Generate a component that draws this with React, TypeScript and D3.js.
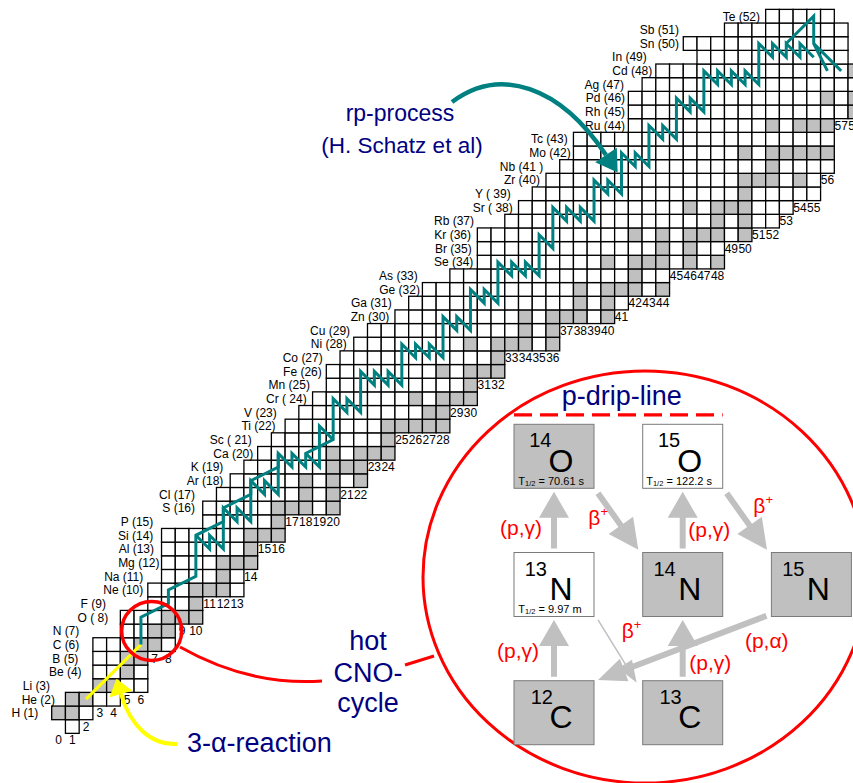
import React from "react";
import * as d3 from "d3";

const FONT = "'Liberation Sans', Arial, Helvetica, sans-serif";
const TEAL = "#008080";
const NAVY = "#000080";
const RED = "#ff0000";
const GRAY = "#c0c0c0";
const YELLOW = "#ffff00";

// Element row labels (index = Z)
const elementLabels = [
  "", "H (1)", "He (2)", "Li (3)", "Be (4)", "B (5)", "C (6)", "N (7)", "O ( 8)", "F (9)",
  "Ne (10)", "Na (11)", "Mg (12)", "Al (13)", "Si (14)", "P (15)", "S (16)", "Cl (17)", "Ar (18)",
  "K (19)", "Ca (20)", "Sc ( 21)", "Ti (22)", "V (23)", "Cr ( 24)", "Mn (25)", "Fe (26)", "Co (27)",
  "Ni (28)", "Cu (29)", "Zn (30)", "Ga (31)", "Ge (32)", "As (33)", "Se (34)", "Br (35)", "Kr (36)",
  "Rb (37)", "Sr ( 38)", "Y ( 39)", "Zr (40)", "Nb (41 )", "Mo (42)", "Tc (43)", "Ru (44)", "Rh (45)",
  "Pd (46)", "Ag (47)", "Cd (48)", "In (49)", "Sn (50)", "Sb (51)", "Te (52)",
];
// right end of each element label, in neutron-number units
const labelEndN = [
  NaN, -0.98, 0.24, -0.12, 2.18, 1.94, 2.01, 2.01, 4.12, 3.95, 6.67, 6.67, 7.85, 7.45, 7.4, 7.4,
  10.44, 10.44, 12.5, 12.5, 14.68, 14.57, 16.31, 16.39, 18.57, 18.81, 19.67, 19.74, 21.49, 21.73,
  24.59, 24.76, 26.82, 26.66, 30.71, 30.59, 30.54, 30.76, 33.58, 33.43, 35.56, 35.8, 37.8, 37.58,
  41.76, 41.76, 41.76, 41.68, 43.74, 43.34, 45.69, 45.69, 51.59,
];
// lightest / heaviest neutron number drawn for each Z
const rowNmin = [1, 0, 1, 3, 3, 3, 3, 5, 5, 7, 7, 8, 8, 8, 8, 11, 11, 12, 13, 14, 15, 16, 17, 18, 19, 20, 20, 21, 22, 23, 25, 26, 27, 29, 31, 31, 31, 33, 34, 35, 36, 37, 38, 38, 42, 42, 42, 43, 44, 47, 46, 49, 52];
const rowNmax = [1, 2, 4, 6, 6, 6, 8, 8, 10, 10, 13, 13, 14, 14, 16, 16, 20, 20, 22, 22, 24, 24, 28, 28, 30, 30, 32, 32, 36, 36, 40, 41, 44, 44, 48, 48, 50, 52, 53, 55, 55, 56, 56, 56, 56, 60, 60, 60, 60, 57, 57, 57, 56];
// stable isotopes (neutron numbers) for each Z
const stableN: number[][] = [
  [], [0, 1], [1, 2], [3, 4], [5], [5, 6], [6, 7], [7, 8], [8, 9, 10], [10], [10, 11, 12], [12],
  [12, 13, 14], [14], [14, 15, 16], [16], [16, 17, 18, 20], [18, 20], [18, 20, 22], [20, 21, 22],
  [20, 22, 23, 24, 26, 28], [24], [24, 25, 26, 27, 28], [27, 28], [26, 28, 29, 30], [30], [28, 30, 31, 32],
  [32], [30, 32, 33, 34, 36], [34, 36], [34, 36, 37, 38, 40], [38, 40], [38, 40, 41, 42, 44], [42],
  [40, 42, 43, 44, 46, 48], [44, 46], [42, 44, 46, 47, 48, 50], [48, 50], [46, 48, 49, 50], [50],
  [50, 51, 52, 54, 56], [52], [50, 52, 53, 54, 55, 56, 58], [], [52, 54, 55, 56, 57, 58, 60], [58],
  [56, 58, 59, 60], [60], [58, 60], [], [], [], [],
];
const firstColLabelRow = -1; // the "0" label sits on the same line as "1"
const lastColLabel = 58;

// rp-process path, [N, Z]
const rpMain: [number, number][] = [
  [6, 6], [6, 8], [8, 9], [8, 10], [10, 11], [10, 14], [12, 15], [12, 16], [14, 17], [14, 18], [16, 19], [16, 20],
  [17, 19], [17, 20], [18, 19], [18, 20], [20, 21], [20, 24], [21, 23], [21, 24], [22, 23], [22, 26], [23, 25],
  [23, 26], [24, 25], [24, 26], [25, 25], [25, 28], [26, 27], [26, 28], [27, 27], [27, 28], [28, 27], [28, 30],
  [29, 29], [29, 30], [30, 29], [30, 32], [31, 31], [31, 32], [32, 31], [32, 34], [33, 33], [33, 34], [34, 33],
  [34, 34], [35, 33], [35, 36], [36, 35], [36, 38], [37, 37], [37, 38], [38, 37], [38, 38], [39, 37], [39, 40],
  [40, 39], [40, 40], [41, 39], [41, 42], [42, 41], [42, 42], [43, 41], [43, 44], [44, 43], [44, 44], [45, 43],
  [45, 46], [46, 45], [46, 46], [47, 45], [47, 48], [48, 47], [48, 48], [49, 47], [49, 48], [50, 47], [50, 48],
  [51, 47], [51, 50], [52, 49], [52, 50], [53, 49], [53, 50], [54, 49], [54, 50], [55, 49],
];
const rpBranchCa: [number, number][] = [[18, 20], [19, 19], [19, 22], [20, 21]];
const rpBranchSi: [number, number][] = [
  [10, 14], [11, 13], [11, 14], [12, 13], [12, 16], [13, 15], [13, 16], [14, 15], [14, 18], [15, 17], [15, 18],
  [16, 17], [16, 20],
];
const rpCycleTe: [number, number][] = [[53, 50], [55, 52], [55, 50], [56, 48]];
const rpCycleSn: [number, number][] = [[55, 50], [57, 48]];
const tripleAlpha: [number, number][] = [[2, 2], [6, 6]];
// centre of the small "hot CNO" ring, in [N, Z]
const cnoRingCenter: [number, number] = [6.78, 7];

// hot CNO cycle inset
const cnoMass = [14, 15, 13, 14, 15, 12, 13];
const cnoElem = ["O", "O", "N", "N", "N", "C", "C"];
const cnoCol = [0, 1, 0, 1, 2, 0, 1];
const cnoRow = [0, 0, 1, 1, 1, 2, 2];
const cnoGray = [true, false, false, true, true, true, true];
const cnoHalfLife = ["70.61 s", "122.2 s", "9.97 m", "", "", "", ""];

function arrowPoly(x1: number, y1: number, x2: number, y2: number, shaft: number, headL: number, headW: number) {
  const dx = x2 - x1, dy = y2 - y1;
  const L = Math.hypot(dx, dy);
  const ux = dx / L, uy = dy / L;
  const px = -uy, py = ux;
  const bx = x2 - ux * headL, by = y2 - uy * headL;
  const s = shaft / 2, h = headW / 2;
  const pts = [
    [x1 + px * s, y1 + py * s], [bx + px * s, by + py * s], [bx + px * h, by + py * h], [x2, y2],
    [bx - px * h, by - py * h], [bx - px * s, by - py * s], [x1 - px * s, y1 - py * s],
  ];
  return "M" + pts.map((p) => p[0].toFixed(2) + "," + p[1].toFixed(2)).join("L") + "Z";
}

function headPoly(ex: number, ey: number, dirx: number, diry: number, len: number, w: number) {
  const L = Math.hypot(dirx, diry);
  const ux = dirx / L, uy = diry / L;
  const px = -uy, py = ux;
  const tx = ex + ux * len, ty = ey + uy * len;
  return `M${ex + px * w / 2},${ey + py * w / 2}L${tx},${ty}L${ex - px * w / 2},${ey - py * w / 2}Z`;
}

export default function App() {
  const x = d3.scaleLinear().domain([0, 58]).range([51.7, 51.7 + 58 * 13.73]);
  const y = d3.scaleLinear().domain([0, 52]).range([719.7, 719.7 - 52 * 13.66]);
  const cw = x(1) - x(0);
  const ch = y(0) - y(1);
  const cx = (n: number) => x(n + 0.5);
  const cy = (z: number) => y(z - 0.5);

  const cells: JSX.Element[] = [];
  for (let z = 0; z < rowNmin.length; z++) {
    for (let n = rowNmin[z]; n <= rowNmax[z]; n++) {
      const gray = stableN[z].includes(n);
      cells.push(
        <rect key={`c${z}-${n}`} x={x(n)} y={y(z)} width={cw} height={ch}
          fill={gray ? GRAY : "#fff"} stroke="#000" strokeWidth={1.3} />
      );
    }
  }

  // column labels below the lowest cell of each column
  const colLabels: JSX.Element[] = [];
  for (let n = 0; n <= lastColLabel; n++) {
    let lowest = -99;
    for (let z = 0; z < rowNmin.length; z++) {
      if (n >= rowNmin[z] && n <= rowNmax[z]) { lowest = z; break; }
    }
    if (lowest < -1) continue;
    const row = n === 0 ? firstColLabelRow : lowest - 1;
    colLabels.push(
      <text key={`nl${n}`} x={cx(n)} y={cy(row) + 4.3} fontSize={12} textAnchor="middle" fill="#000">{n}</text>
    );
  }

  const elLabels = elementLabels.map((s, z) =>
    z === 0 ? null : (
      <text key={`el${z}`} x={x(labelEndN[z])} y={cy(z) + 4.3} fontSize={12} textAnchor="end" fill="#000">{s}</text>
    )
  );

  const line = d3.line<[number, number]>().x((d) => cx(d[0])).y((d) => cy(d[1]));

  // inset scales
  const ix = d3.scaleLinear().domain([0, 2]).range([514, 771.4]);
  const iy = d3.scaleLinear().domain([0, 2]).range([424.3, 680.7]);
  const BW = 80, BH = 64;

  const boxes = cnoMass.map((m, i) => {
    const bx = ix(cnoCol[i]), by = iy(cnoRow[i]);
    const el = cnoElem[i];
    const massEnd = el === "N" ? 33 : el === "O" ? 37.5 : 39;
    return (
      <g key={`b${i}`}>
        <rect x={bx} y={by} width={BW} height={BH} fill={cnoGray[i] ? GRAY : "#fff"} stroke="#7a7a7a" strokeWidth={1} />
        <text x={bx + massEnd} y={by + 23} fontSize={20} textAnchor="end" fill="#000">{m}</text>
        <text x={bx + 47} y={by + 47.5} fontSize={32} textAnchor="middle" fill="#000">{el}</text>
        {cnoHalfLife[i] ? (
          <text x={bx + (i === 1 ? 3.5 : 4.3)} y={by + 60.5} fontSize={11} fill="#000">
            T<tspan fontSize={7.5} dy={1}>1/2</tspan><tspan dy={-1}>{" = " + cnoHalfLife[i]}</tspan>
          </text>
        ) : null}
      </g>
    );
  });

  // inset arrows
  const pgPairs = [[0, 2], [0, 1], [1, 2], [1, 1]];
  const arrows: string[] = [];
  pgPairs.forEach(([c, r]) => {
    const ax = ix(c) + BW / 2;
    arrows.push(arrowPoly(ax, iy(r) - 4, ax, iy(r - 1) + BH + 3.5, 6, 26, 30));
  });
  [[0, 0], [1, 0]].forEach(([c, r]) => {
    arrows.push(arrowPoly(ix(c) + BW + 4, iy(r) + BH + 5, ix(c + 1) - 4.4, iy(r + 1) - 2.7, 6, 30, 30));
  });
  const pAlpha = arrowPoly(ix(2) - 5, iy(1) + BH - 0.7, ix(0) + BW + 4, iy(2) - 0.7, 6, 28, 24);
  const thinBeta = arrowPoly(ix(0) + BW + 4, iy(1) + BH + 3.3, ix(1) - 6, iy(2) + 2, 1.5, 22, 16);

  const redText = (key: string, tx: number, ty: number, s: string) => (
    <text key={key} x={tx} y={ty} fontSize={21} fill={RED}>{s}</text>
  );
  const beta = (key: string, tx: number, ty: number) => (
    <text key={key} x={tx} y={ty} fontSize={21} fill={RED}>β<tspan fontSize={13} dy={-9}>+</tspan></text>
  );

  // rp-process annotation arrow
  const rpArrowD = "M 452 102 C 500 66, 560 86, 606 155";
  const rpHead = headPoly(606, 155, 46, 69, 21, 26);
  // 3-alpha arrow
  const yArrowD = "M 177 744 C 150 745, 130 725, 121 694";
  const yHead = headPoly(121, 694, -9, -31, 16, 24);

  return (
    <svg width={853} height={783} style={{ position: "absolute", left: 0, top: 0, display: "block" }} fontFamily={FONT}>
      <rect x={0} y={0} width={853} height={783} fill="#fff" />
      {cells}
      <path d={line(tripleAlpha) || ""} stroke={YELLOW} strokeWidth={3.2} fill="none" />
      {[rpMain, rpBranchCa, rpBranchSi, rpCycleTe, rpCycleSn].map((p, i) => (
        <path key={`rp${i}`} d={line(p) || ""} stroke={TEAL} strokeWidth={3} fill="none" strokeLinejoin="miter" />
      ))}
      {elLabels}
      {colLabels}

      {/* rp-process label */}
      <text x={400} y={121} fontSize={23} textAnchor="middle" fill={NAVY}>rp-process</text>
      <text x={402} y={153} fontSize={22.5} textAnchor="middle" fill={NAVY}>(H. Schatz et al)</text>
      <path d={rpArrowD} stroke={TEAL} strokeWidth={4.5} fill="none" />
      <path d={rpHead} fill={TEAL} />

      {/* 3-alpha */}
      <path d={yArrowD} stroke={YELLOW} strokeWidth={4} fill="none" />
      <path d={yHead} fill={YELLOW} />
      <text x={187} y={752} fontSize={27} fill={NAVY}>3-α-reaction</text>

      {/* hot CNO */}
      <ellipse cx={cx(cnoRingCenter[0])} cy={cy(cnoRingCenter[1])} rx={30} ry={29.5} fill="none" stroke={RED} strokeWidth={3.5} />
      <path d="M 180 647 Q 249 686 322 681" stroke={RED} strokeWidth={3} fill="none" />
      <text x={368} y={650} fontSize={27} textAnchor="middle" fill={NAVY}>hot</text>
      <text x={368} y={682} fontSize={27} textAnchor="middle" fill={NAVY}>CNO-</text>
      <text x={368} y={712} fontSize={27} textAnchor="middle" fill={NAVY}>cycle</text>
      <path d="M 405 665 L 434 656" stroke={RED} strokeWidth={3} fill="none" />

      {/* inset */}
      <ellipse cx={645} cy={577} rx={222} ry={206} fill="none" stroke={RED} strokeWidth={3} />
      <text x={621.7} y={405} fontSize={27} textAnchor="middle" fill={NAVY}>p-drip-line</text>
      <line x1={ix(0)} x2={ix(1) + BW} y1={iy(0) - 9.5} y2={iy(0) - 9.5} stroke={RED} strokeWidth={3.3} strokeDasharray="18 8" />
      {arrows.map((d, i) => <path key={`a${i}`} d={d} fill={GRAY} />)}
      <path d={thinBeta} fill={GRAY} />
      <path d={pAlpha} fill={GRAY} />
      {boxes}
      {redText("pg1", ix(0) - 14, iy(0) + 110.7, "(p,γ)")}
      {redText("pg2", ix(1) + 45.6, iy(0) + 113, "(p,γ)")}
      {redText("pg3", ix(0) - 17, iy(1) + 105, "(p,γ)")}
      {redText("pg4", ix(1) + 46.6, iy(1) + 117.5, "(p,γ)")}
      {redText("pa", ix(2) - 26.5, iy(1) + 95, "(p,α)")}
      {beta("b1", ix(0) + 74.3, iy(0) + 100.5)}
      {beta("b2", ix(1) + 110.6, iy(0) + 89)}
      {beta("b3", ix(0) + 107.7, iy(1) + 85.5)}
    </svg>
  );
}
